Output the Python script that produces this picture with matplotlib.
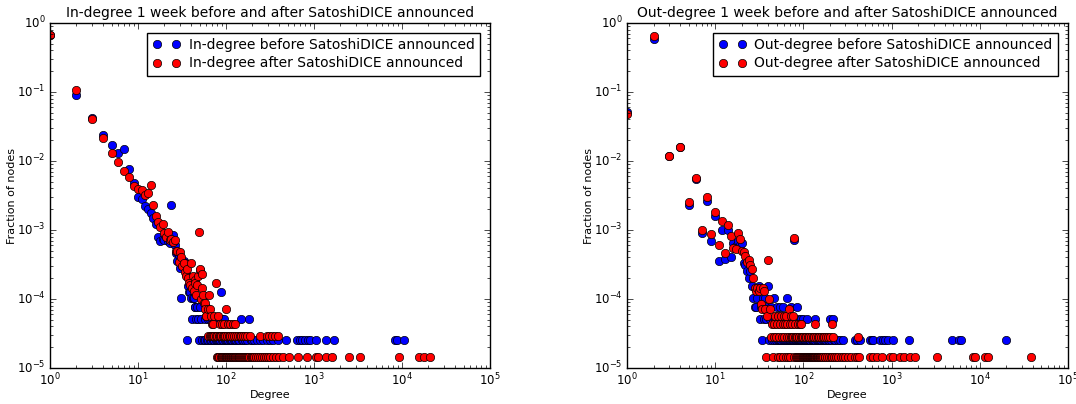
import numpy as np
import matplotlib
matplotlib.use("Agg")
import matplotlib.pyplot as plt

# ---- in-degree, 1 week before (blue) ----
N_IN_BEFORE = 39200
in_before_deg = [1, 2, 3, 4, 5, 6, 7, 8, 9, 10, 11, 12, 13, 14, 15, 16, 17, 18, 19, 20,
                 21, 22, 23, 24, 25, 26, 27, 28, 29, 30, 31, 32, 33, 34, 35, 37, 38, 39, 40,
                 41, 42, 43, 44, 45, 46, 47, 48, 50, 52, 55, 57, 60, 62, 65, 70, 75, 80, 87,
                 90, 95, 147, 182]
in_before_cnt = [25900, 3570, 1666, 940, 674, 517, 584, 298, 188, 118, 110, 88, 78, 70, 59, 48,
                 31, 27, 29, 28, 32, 27, 25, 90, 33, 24, 18, 14, 17, 11, 4, 12, 14, 13, 9, 6, 5,
                 5, 4, 2, 4, 4, 3, 3, 2, 3, 2, 3, 2, 4, 2, 3, 2, 2, 2, 2, 2, 5, 2, 2, 2, 2]
in_before_single = [36, 49, 53, 56, 58, 61, 63, 66, 68, 71, 73, 76, 78, 82, 84, 86, 89, 92, 97,
                    99, 103, 106, 110, 114, 118, 122, 126, 131, 136, 141, 152, 158, 165, 172,
                    190, 198, 210, 225, 245, 260, 290, 320, 345, 390, 480, 640, 690, 730, 780,
                    850, 900, 1050, 1360, 1700, 8400, 8800, 10600]

# ---- in-degree, 1 week after (red) ----
N_IN_AFTER = 69400
in_after_deg = [1, 2, 3, 4, 5, 6, 7, 8, 9, 10, 11, 12, 13, 14, 15, 16, 17, 18, 19, 20,
                21, 22, 23, 24, 25, 26, 27, 28, 29, 30, 31, 32, 33, 34, 35, 36, 37, 38, 39, 40,
                41, 42, 43, 44, 45, 46, 47, 48, 49, 50, 51, 52, 53, 54, 55, 56, 57, 58, 59, 60,
                62, 64, 66, 68, 70, 72, 74, 76, 81, 85, 90, 95, 100, 105, 112, 120, 127]
in_after_cnt = [46500, 7430, 2850, 1513, 916, 680, 493, 410, 298, 270, 264, 226, 236, 312, 160,
                111, 90, 76, 85, 62, 55, 66, 49, 52, 47, 50, 35, 35, 24, 33, 28, 21, 23, 17, 15,
                19, 14, 12, 11, 23, 10, 15, 9, 13, 12, 8, 11, 15, 65, 18, 19, 7, 16, 10, 8, 6, 6,
                5, 4, 4, 5, 8, 5, 4, 3, 3, 4, 12, 4, 3, 3, 3, 5, 3, 3, 3, 3]
in_after_double = [63, 65, 67, 69, 71, 73, 77, 79, 83, 86, 88, 92, 96, 98, 102, 107, 110, 116,
                   122, 130, 137, 143, 150, 158, 165, 175, 188, 242, 290, 310, 330, 360, 390]
in_after_single = [80, 82, 84, 87, 89, 91, 93, 94, 97, 99, 101, 103, 104, 106, 108, 109, 111,
                   113, 114, 117, 119, 121, 124, 126, 128, 131, 134, 136, 139, 142, 145, 148,
                   152, 155, 160, 163, 168, 172, 178, 183, 190, 196, 203, 210, 220, 230, 245,
                   258, 270, 285, 300, 320, 345, 370, 400, 440, 525, 650, 840, 1050, 1110,
                   1360, 1620, 2500, 3300, 9200, 15500, 18000, 20600]

# ---- out-degree, 1 week before (blue) ----
N_OUT_BEFORE = 39200
out_before_deg = [1, 2, 3, 4, 5, 6, 7, 8, 9, 10, 11, 12, 13, 14, 15, 16, 17, 18, 19, 20,
                  21, 22, 23, 24, 25, 26, 27, 28, 29, 30, 31, 33, 35, 37, 39, 40, 43, 46, 50,
                  55, 59, 66, 72, 79, 84]
out_before_cnt = [2040, 22700, 459, 627, 89, 212, 35, 104, 27, 63, 14, 39, 15, 39, 16, 25, 23,
                  27, 24, 25, 13, 12, 10, 8, 10, 6, 4, 3, 3, 4, 6, 3, 4, 4, 3, 6, 3, 4, 3, 3, 3,
                  4, 3, 28, 3]
out_before_double = [32, 36, 38, 42, 45, 48, 52, 57, 61, 64, 68, 75, 81, 88, 93, 100, 109, 135,
                     200, 215]
out_before_single = [34, 41, 44, 47, 49, 51, 53, 54, 56, 58, 60, 62, 63, 65, 67, 69, 70, 71, 73,
                     74, 76, 77, 78, 80, 82, 83, 85, 86, 87, 89, 90, 91, 92, 94, 95, 97, 99,
                     101, 103, 105, 107, 110, 112, 115, 118, 120, 124, 127, 130, 133, 137, 141,
                     145, 150, 155, 160, 165, 170, 175, 180, 188, 195, 205, 220, 230, 245, 260,
                     283, 385, 400, 440, 570, 600, 620, 740, 800, 850, 900, 1040, 1580, 4800,
                     5800, 6200, 20000]

# ---- out-degree, 1 week after (red) ----
N_OUT_AFTER = 70000
out_after_deg = [1, 2, 3, 4, 5, 6, 7, 8, 9, 10, 11, 12, 13, 14, 15, 16, 17, 18, 19, 20,
                 21, 22, 23, 24, 25, 26, 27, 28, 29, 30, 31, 32, 33, 34, 35, 36, 37, 39, 40,
                 41, 42, 48, 52, 56, 60, 64, 68, 73, 77, 79]
out_after_cnt = [3360, 44800, 840, 1127, 180, 399, 71, 210, 61, 126, 43, 95, 33, 82, 58, 39, 37,
                 63, 52, 35, 34, 29, 24, 26, 22, 19, 14, 10, 9, 10, 9, 10, 6, 5, 10, 9, 5, 4, 26,
                 7, 5, 4, 4, 4, 4, 4, 5, 4, 4, 53]
out_after_triple = [44, 47, 50, 54, 58, 62, 66, 70, 75, 81, 86, 91, 95, 135, 212]
out_after_double = [43, 46, 49, 53, 57, 61, 65, 69, 72, 74, 76, 80, 83, 85, 88, 90, 93, 97, 100,
                    103, 107, 112, 117, 122, 128, 133, 140, 146, 152, 158, 165, 172, 180, 190,
                    200, 218, 420]
out_after_single = [38, 45, 51, 55, 59, 63, 67, 71, 78, 82, 84, 87, 89, 92, 94, 96, 98, 99, 101,
                    102, 104, 105, 106, 108, 109, 110, 111, 113, 114, 115, 116, 118, 119, 120,
                    121, 123, 124, 125, 126, 127, 129, 130, 131, 132, 134, 136, 138, 141, 143,
                    145, 148, 150, 154, 156, 160, 163, 168, 175, 178, 185, 195, 205, 210, 225,
                    235, 250, 265, 280, 300, 320, 350, 380, 400, 430, 570, 620, 680, 770, 960,
                    1040, 1250, 1400, 1600, 1850, 3250, 8400, 8900, 11400, 12500, 38500]


def distribution(deg, cnt, groups, total):
    # groups: list of (count, [degrees]) for the flat tail rows
    d = list(deg)
    c = list(cnt)
    for k, degs in groups:
        d += degs
        c += [k] * len(degs)
    d = np.array(d, dtype=float)
    c = np.array(c, dtype=float)
    order = np.argsort(d)
    return d[order], c[order] / total


plt.style.use("classic")
plt.rcParams["font.family"] = "DejaVu Sans"

fig = plt.figure(figsize=(10.76, 4.04), dpi=100)
fig.patch.set_facecolor("white")
ax1 = fig.add_axes([50 / 1076, 36 / 404, 440 / 1076, 345 / 404])
ax2 = fig.add_axes([627 / 1076, 36 / 404, 441 / 1076, 345 / 404])

panels = [
    (ax1, "In-degree",
     distribution(in_before_deg, in_before_cnt, [(1, in_before_single)], N_IN_BEFORE),
     distribution(in_after_deg, in_after_cnt, [(2, in_after_double), (1, in_after_single)],
                  N_IN_AFTER)),
    (ax2, "Out-degree",
     distribution(out_before_deg, out_before_cnt,
                  [(2, out_before_double), (1, out_before_single)], N_OUT_BEFORE),
     distribution(out_after_deg, out_after_cnt,
                  [(3, out_after_triple), (2, out_after_double), (1, out_after_single)],
                  N_OUT_AFTER)),
]

for ax, kind, before, after in panels:
    ax.loglog(before[0], before[1], "bo", markersize=6, markeredgewidth=0.5,
              label=f"{kind} before SatoshiDICE announced")
    ax.loglog(after[0], after[1], "ro", markersize=6, markeredgewidth=0.5,
              label=f"{kind} after SatoshiDICE announced")
    ax.set_xlim(1, 1e5)
    ax.set_ylim(1e-5, 1)
    ax.set_title(f"{kind} 1 week before and after SatoshiDICE announced", fontsize=10, pad=4)
    ax.set_xlabel("Degree", fontsize=8, labelpad=1)
    ax.set_ylabel("Fraction of nodes", fontsize=8, labelpad=0)
    ax.tick_params(labelsize=8.5, pad=3)
    ax.legend(loc="upper right", numpoints=2, fontsize=10, fancybox=False,
              borderaxespad=0.7, handletextpad=0.6, labelspacing=0.3)

fig.savefig("out.png", dpi=100, facecolor="white")
